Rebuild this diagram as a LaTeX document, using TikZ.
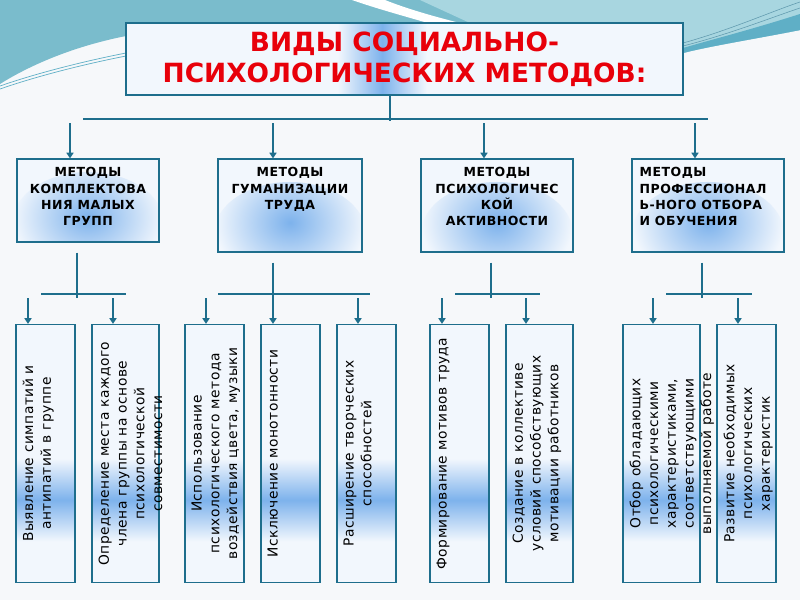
\documentclass[tikz,border=0pt]{standalone}
\usepackage{fontspec}
\setmainfont{DejaVu Sans}
\newfontfamily\spacedfont[LetterSpace=3.5]{DejaVu Sans}
\newfontfamily\spacedbold[LetterSpace=4]{DejaVu Sans Bold}
\usetikzlibrary{arrows.meta, positioning, calc}
\definecolor{linecol}{RGB}{30,110,140}
\definecolor{titlered}{RGB}{232,0,10}
\definecolor{pagebg}{RGB}{246,248,250}
\definecolor{tealdark}{RGB}{122,188,204}
\definecolor{teallight}{RGB}{168,214,224}
\definecolor{tealband}{RGB}{95,175,198}
\definecolor{boxbg}{RGB}{242,247,253}
\definecolor{glow}{RGB}{125,178,236}
\pgfdeclarehorizontalshading{tband}{100bp}{color(0bp)=(boxbg); color(44bp)=(boxbg); color(48bp)=(glow); color(52bp)=(boxbg); color(100bp)=(boxbg)}
\pgfdeclareverticalshading{lband}{100bp}{color(0bp)=(boxbg); color(33bp)=(boxbg); color(41bp)=(glow); color(49bp)=(boxbg); color(100bp)=(boxbg)}
\tikzset{
  conn/.style={draw=linecol, line width=0.9pt},
  arr/.style={conn, -{Triangle[width=5pt,length=4pt]}},
  titlebox/.style={draw=linecol, line width=0.9pt, shading=tband, align=center, inner sep=0pt,
    text=titlered, font=\bfseries\fontsize{18.8}{22}\selectfont},
  headbox/.style={draw=linecol, line width=0.9pt, fill=boxbg, inner sep=0pt,
    path picture={\shade[inner color=glow, outer color=boxbg]
      ([yshift=0.45cm]path picture bounding box.south) ellipse [x radius=1.9cm, y radius=1.3cm];}},
  headtext/.style={align=center, inner sep=0pt, font=\spacedbold\fontsize{8.9}{11.6}\selectfont},
  lowbox/.style={draw=linecol, line width=0.9pt, shading=lband, inner sep=0pt, minimum height=6.45cm},
  lowtext/.style={rotate=90, anchor=north, align=center, inner sep=0pt, font=\spacedfont\fontsize{9.8}{12.6}\selectfont}
}
\begin{document}
\begin{tikzpicture}[x=0.025cm, y=-0.025cm]
    \useasboundingbox (0,0) rectangle (800,600);
    \fill[pagebg] (0,0) rectangle (800,600);

    % Background swoosh at the top
    \fill[tealdark] (0,0) -- (800,0) -- (800,30) .. controls (760,38) and (710,46) .. (683,53)
        -- (683,23) -- (126,23) -- (126,36) .. controls (80,45) and (35,62) .. (0,84) -- cycle;
    \fill[teallight] (420,0) -- (800,0) -- (800,30) .. controls (760,38) and (710,46) .. (683,53) -- (683,23) -- (470,23) -- cycle;
    \fill[tealband] (800,14) .. controls (750,30) and (710,40) .. (683,48) -- (683,53) .. controls (710,46) and (760,38) .. (800,30) -- cycle;
    \fill[white] (352,0) -- (385,0) .. controls (410,10) and (440,18) .. (460,23) -- (428,23) .. controls (400,15) and (375,8) .. (352,0);
    \draw[tealband, line width=0.5pt] (0,86) .. controls (40,72) and (90,60) .. (126,53);
    \draw[tealband, line width=0.5pt] (0,89) .. controls (40,75) and (90,63) .. (126,56);
    \draw[linecol!70, line width=0.4pt] (683,43) .. controls (730,30) and (770,12) .. (800,2);
    \draw[linecol!70, line width=0.4pt] (683,46) .. controls (730,34) and (770,18) .. (800,8);

    % Title
    \node[titlebox, minimum width=557*0.025cm, minimum height=72*0.025cm] (title) at (404.5,59)
        {ВИДЫ СОЦИАЛЬНО-\\ПСИХОЛОГИЧЕСКИХ МЕТОДОВ:};

    % Four groups of methods
    \node[headbox, minimum width=142*0.025cm, minimum height=83*0.025cm] (m1) at (88,200.5) {};
    \node[headbox, minimum width=144*0.025cm, minimum height=93*0.025cm] (m2) at (290,205.5) {};
    \node[headbox, minimum width=152*0.025cm, minimum height=93*0.025cm] (m3) at (497,205.5) {};
    \node[headbox, minimum width=152*0.025cm, minimum height=93*0.025cm] (m4) at (708,205.5) {};
    \node[headtext, anchor=north] (m1t) at ([yshift=-9*0.025cm]m1.north) {МЕТОДЫ\\КОМПЛЕКТОВА\\НИЯ МАЛЫХ\\ГРУПП};
    \node[headtext, anchor=north] (m2t) at ([yshift=-9*0.025cm]m2.north) {МЕТОДЫ\\ГУМАНИЗАЦИИ\\ТРУДА};
    \node[headtext, anchor=north] (m3t) at ([yshift=-9*0.025cm]m3.north) {МЕТОДЫ\\ПСИХОЛОГИЧЕС\\КОЙ\\АКТИВНОСТИ};
    \node[headtext, anchor=north west, align=left] (m4t) at ([xshift=8*0.025cm, yshift=-9*0.025cm]m4.north west)
        {МЕТОДЫ\\ПРОФЕССИОНАЛ\\Ь-НОГО ОТБОРА\\И ОБУЧЕНИЯ};

    % Upper connectors
    \coordinate (tstem) at (390,121);
    \coordinate (busL) at (83,119);
    \coordinate (busR) at (708,119);
    \draw[conn] (title.south -| tstem) -- (tstem);
    \draw[conn] (busL) -- (busR);
    \foreach \i/\x in {1/70, 2/273, 3/484, 4/695} {
        \coordinate (d\i) at (\x,123);
        \draw[arr] (d\i) -- (d\i |- m\i.north);
    }

    % Lower connectors
    \foreach \i/\sx/\bl/\br in {1/77/41/126, 2/273/218/370, 3/491/455/540, 4/702/666/752} {
        \coordinate (s\i) at (\sx,298);
        \coordinate (bl\i) at (\bl,294);
        \coordinate (br\i) at (\br,294);
        \draw[conn] ([yshift=-10*0.025cm]m\i.south -| s\i) -- (s\i);
        \draw[conn] (bl\i) -- (br\i);
    }

    % Methods
    \foreach \nm/\xl/\xr/\ax/\txt in {
        a/16/75/28/{Выявление симпатий и\\антипатий в группе},
        b/92/159/113/{Определение места каждого\\члена группы на основе\\психологической\\совместимости},
        c/185/244/206/{Использование\\психологического метода\\воздействия цвета, музыки},
        d/261/320/273/{Исключение монотонности},
        e/337/396/358/{Расширение творческих\\способностей},
        f/430/489/442/{Формирование мотивов труда},
        g/506/573/526/{Создание в коллективе\\условий способствующих\\мотивации работников},
        h/623/700/653/{Отбор обладающих\\психологическими\\характеристиками,\\соответствующими\\выполняемой работе},
        i/717/776/738/{Развитие необходимых\\психологических\\характеристик}} {
        \node[lowbox, minimum width={(\xr-\xl)*0.025cm}] (\nm) at ({(\xl+\xr)/2},453.5) {};
        \node[lowtext] (\nm t) at ([xshift=7*0.025cm]\nm.west) {\txt};
        \coordinate (\nm d) at (\ax,298);
        \draw[arr] (\nm d) -- (\nm d |- \nm.north);
    }
\end{tikzpicture}
\end{document}
